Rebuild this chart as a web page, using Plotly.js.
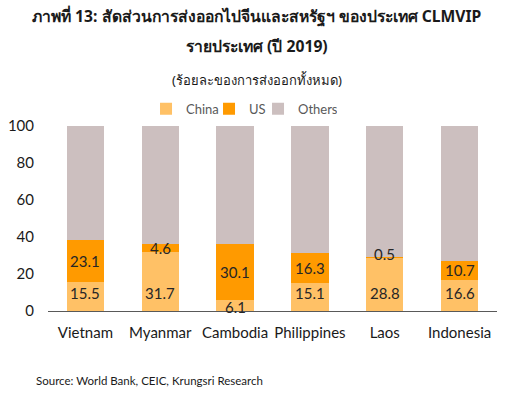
<!DOCTYPE html>
<html>
<head>
<meta charset="utf-8">
<script src="https://cdn.plot.ly/plotly-3.0.1.min.js"></script>
<style>html,body{margin:0;padding:0;background:#fff;}#chart{width:512px;height:396px;}</style>
</head>
<body>
<div id="chart"></div>
<script>
const countries = ["Vietnam", "Myanmar", "Cambodia", "Philippines", "Laos", "Indonesia"];
const china = [15.5, 31.7, 6.1, 15.1, 28.8, 16.6];
const us = [23.1, 4.6, 30.1, 16.3, 0.5, 10.7];
const others = [61.4, 63.7, 63.8, 68.6, 70.7, 72.7];
const yTicks = [0, 20, 40, 60, 80, 100];
const titleLines = ["ภาพที่ 13: สัดส่วนการส่งออกไปจีนและสหรัฐฯ ของประเทศ CLMVIP", "รายประเทศ (ปี 2019)"];
const subtitle = "(ร้อยละของการส่งออกทั้งหมด)";
const source = "Source: World Bank, CEIC, Krungsri Research";

const sans = "Lato, 'Open Sans', sans-serif";
const thai = "Tahoma, 'Noto Sans', sans-serif";
const labelFont = {family: sans, size: 15, color: "#262626"};

const traces = [
  {type: "bar", name: "China", x: countries, y: china, marker: {color: "#FFC166"},
   hoverinfo: "none", legendwidth: 18},
  {type: "bar", name: "US", x: countries, y: us, marker: {color: "#FF9A00"},
   hoverinfo: "none", legendwidth: 4},
  {type: "bar", name: "Others", x: countries, y: others, marker: {color: "#CCBFBF"},
   hoverinfo: "none", legendwidth: 34}
];

// value labels: China near the bar base, US at the middle of its segment
const valueLabels = [];
countries.forEach((c, i) => {
  valueLabels.push({x: c, y: 0, xref: "x", yref: "y", text: china[i].toFixed(1),
    showarrow: false, yanchor: "bottom", yshift: china[i] > 10 ? 7 : -7, font: labelFont});
  valueLabels.push({x: c, y: china[i] + us[i] / 2, xref: "x", yref: "y", text: us[i].toFixed(1),
    showarrow: false, yanchor: "middle", yshift: us[i] < 1 ? 3 : 0, font: labelFont});
});

const layout = {
  width: 512, height: 396,
  margin: {l: 48, r: 15, t: 126, b: 85},
  paper_bgcolor: "#fff", plot_bgcolor: "#fff",
  barmode: "stack", bargap: 0.5,
  showlegend: true,
  legend: {
    orientation: "h", x: 0.431, xanchor: "center", y: 1.012, yref: "paper", yanchor: "bottom",
    font: {family: sans, size: 13, color: "#595959"},
    traceorder: "normal", itemwidth: 30
  },
  xaxis: {
    type: "category", showgrid: false, zeroline: false,
    showline: true, linecolor: "#595959", linewidth: 1,
    ticks: "", ticklabelstandoff: 8,
    tickfont: {family: sans, size: 15, color: "#1a1a1a"}
  },
  yaxis: {
    range: [0, 100], tickvals: yTicks, ticktext: yTicks.map(String),
    showgrid: false, zeroline: false, showline: false, ticks: "", ticklabelstandoff: 13,
    tickfont: {family: sans, size: 15, color: "#1a1a1a"}
  },
  annotations: valueLabels.concat([
    {text: "<b>" + titleLines[0] + "</b>", xref: "paper", yref: "paper", x: 0.5, xshift: -16, y: 1.0, yshift: 110,
     xanchor: "center", yanchor: "middle", showarrow: false,
     font: {family: thai, size: 15.7, color: "#1a1a1a"}},
    {text: "<b>" + titleLines[1] + "</b>", xref: "paper", yref: "paper", x: 0.5, xshift: -16, y: 1.0, yshift: 80,
     xanchor: "center", yanchor: "middle", showarrow: false,
     font: {family: thai, size: 15.7, color: "#1a1a1a"}},
    {text: subtitle, xref: "paper", yref: "paper", x: 0.5, xshift: -16, y: 1.0, yshift: 46,
     xanchor: "center", yanchor: "middle", showarrow: false,
     font: {family: thai, size: 13, color: "#1a1a1a"}},
    {text: source, xref: "paper", yref: "paper",
     x: 0, xshift: -14, y: 0, yshift: -69, xanchor: "left", yanchor: "middle", showarrow: false,
     font: {family: sans, size: 11.5, color: "#1a1a1a"}}
  ])
};

Plotly.newPlot("chart", traces, layout, {displayModeBar: false, staticPlot: true});
</script>
</body>
</html>
